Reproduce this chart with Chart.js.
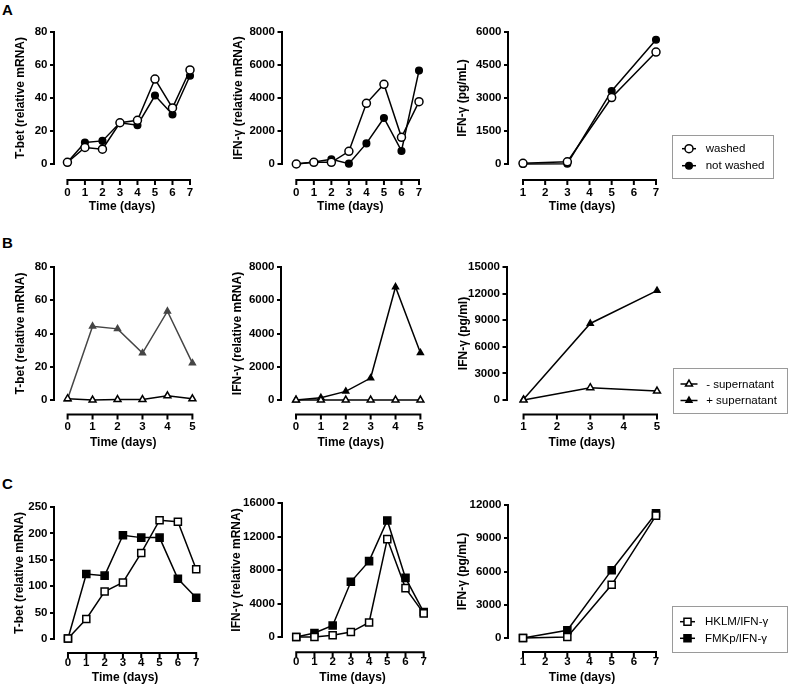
<!DOCTYPE html>
<html><head><meta charset="utf-8">
<script src="https://cdn.jsdelivr.net/npm/chart.js@4"></script>
<style>
body{margin:0;background:#fff;width:789px;height:690px;position:relative;overflow:hidden;font-family:"Liberation Sans",Arial,sans-serif}
canvas{position:absolute}
.pl{position:absolute;font:bold 15px "Liberation Sans",Arial,sans-serif;line-height:15px;color:#000}
</style></head><body>
<div class="pl" style="left:2px;top:2px">A</div>
<div class="pl" style="left:2px;top:235px">B</div>
<div class="pl" style="left:2px;top:476px">C</div>
<script>
// ---------- data ----------
const daysA = [0,1,2,3,4,5,6,7];
const daysA3 = [1,3,5,7];
const xTicksA = [0,1,2,3,4,5,6,7];
const xTicksA3 = [1,2,3,4,5,6,7];
const tbetWashedA = [1,10,9,25,26.5,51.5,34,57];
const tbetNotWashedA = [1,13,14,25,23.5,41.5,30,53.5];
const ifnMrnaWashedA = [0,100,100,770,3680,4830,1620,3780];
const ifnMrnaNotWashedA = [0,120,280,20,1250,2790,790,5660];
const ifnProtWashedA = [30,100,3020,5090];
const ifnProtNotWashedA = [0,15,3320,5650];
const yTicksTbetA = [0,20,40,60,80];
const yTicksMrnaA = [0,2000,4000,6000,8000];
const yTicksProtA = [0,1500,3000,4500,6000];

const daysB = [0,1,2,3,4,5];
const daysB3 = [1,3,5];
const xTicksB = [0,1,2,3,4,5];
const xTicksB3 = [1,2,3,4,5];
const tbetMinusB = [0.8,0,0.3,0.3,2.5,0.7];
const tbetPlusB = [0.6,44.4,42.8,28.2,53.4,22.2];
const ifnMrnaMinusB = [0,0,0,0,0,0];
const ifnMrnaPlusB = [0,140,520,1320,6800,2840];
const ifnProtMinusB = [0,1390,1010];
const ifnProtPlusB = [75,8630,12340];
const yTicksTbetB = [0,20,40,60,80];
const yTicksMrnaB = [0,2000,4000,6000,8000];
const yTicksProtB = [0,3000,6000,9000,12000,15000];

const daysC = [0,1,2,3,4,5,6,7];
const daysC3 = [1,3,5,7];
const xTicksC = [0,1,2,3,4,5,6,7];
const xTicksC3 = [1,2,3,4,5,6,7];
const tbetHklmC = [1,38,90,107,163,225,222,132];
const tbetFmkpC = [1,123,120,196.5,192,192,114,78];
const ifnMrnaHklmC = [0,0,200,590,1730,11690,5840,2820];
const ifnMrnaFmkpC = [0,470,1370,6590,9060,13920,7060,2980];
const ifnProtHklmC = [0,90,4800,11040];
const ifnProtFmkpC = [0,700,6120,11250];
const yTicksTbetC = [0,50,100,150,200,250];
const yTicksMrnaC = [0,4000,8000,12000,16000];
const yTicksProtC = [0,3000,6000,9000,12000];

const labelsA = ['washed','not washed'];
const labelsB = ['- supernatant','+ supernatant'];
const labelsC = ['HKLM/IFN-\u03b3','FMKp/IFN-\u03b3'];

// ---------- styles ----------
const FONT = '"Liberation Sans", Arial, sans-serif';
const sOpenCircle = {style:'circle', r:4, fill:'#fff', color:'#000'};
const sFillCircle = {style:'circle', r:3.3, fill:'#000', color:'#000'};
const sOpenTri = {style:'triangle', r:4, fill:'#fff', color:'#000'};
const sFillTri = {style:'triangle', r:3.4, fill:'#000', color:'#000'};
const sFillTriGray = {style:'triangle', r:3.4, fill:'#454545', color:'#454545'};
const sOpenSq = {style:'rect', r:5, fill:'#fff', color:'#000'};
const sFillSq = {style:'rect', r:5, fill:'#000', color:'#000'};

function drawMarker(ctx, st, x, y) {
  ctx.save();
  ctx.fillStyle = st.fill; ctx.strokeStyle = st.color; ctx.lineWidth = 1.5;
  ctx.beginPath();
  const r = st.r;
  if (st.style === 'circle') ctx.arc(x, y, r, 0, Math.PI*2);
  else if (st.style === 'triangle') {
    for (let k=0;k<3;k++){const a=k*2*Math.PI/3; const px=x+Math.sin(a)*r, py=y-Math.cos(a)*r; k?ctx.lineTo(px,py):ctx.moveTo(px,py);} ctx.closePath();
  } else { const s=Math.SQRT1_2*r; ctx.rect(x-s,y-s,2*s,2*s); }
  ctx.fill(); ctx.stroke(); ctx.restore();
}

const xAxisPlugin = {
  id:'xAxisLine',
  afterDraw(chart, args, opts) {
    const {ctx} = chart; const x = chart.scales.x, y = chart.scales.y;
    const yy = y.getPixelForValue(0) + opts.gap;
    const px = x.ticks.map(t => x.getPixelForValue(t.value));
    ctx.save(); ctx.strokeStyle = '#000'; ctx.lineWidth = 2;
    ctx.beginPath(); ctx.moveTo(px[0]-1, yy); ctx.lineTo(px[px.length-1]+1, yy);
    px.forEach(p => { ctx.moveTo(p, yy); ctx.lineTo(p, yy+5); });
    ctx.stroke(); ctx.restore();
  }
};

const legendPlugin = {
  id:'boxLegend',
  afterDraw(chart, args, opts) {
    if (!opts || !opts.box) return;
    const {ctx} = chart; const o = opts.offset;
    const b = opts.box;
    ctx.save();
    ctx.strokeStyle = '#9a9a9a'; ctx.lineWidth = 1;
    ctx.strokeRect(Math.round(b[0]-o[0])+0.5, Math.round(b[1]-o[1])+0.5, b[2]-b[0], b[3]-b[1]);
    chart.data.datasets.forEach((ds, i) => {
      const yy = opts.rows[i] - o[1];
      ctx.strokeStyle = ds.borderColor; ctx.lineWidth = 1.5;
      ctx.beginPath(); ctx.moveTo(opts.sym[0]-o[0], yy); ctx.lineTo(opts.sym[1]-o[0], yy); ctx.stroke();
      drawMarker(ctx, opts.styles[i], opts.sym[2]-o[0], yy);
      ctx.fillStyle = '#000'; ctx.font = '11.5px ' + FONT; ctx.textBaseline = 'middle'; ctx.textAlign = 'left';
      ctx.fillText(ds.label, opts.textX - o[0], yy + 0.5);
    });
    ctx.restore();
  }
};

function build(spec) {
  const cl = spec.ytx - 10, ct = spec.ytop - 12;
  const right = spec.legend ? 789 : spec.x1 + 14;
  const Hx = spec.titC + 7.2 - spec.y0;
  const ch = Math.ceil(spec.y0 + Hx + 3 - ct);
  const cw = Math.ceil(right - cl);
  const canvas = document.createElement('canvas');
  canvas.width = cw; canvas.height = ch;
  canvas.style.left = cl + 'px'; canvas.style.top = ct + 'px';
  canvas.style.width = cw + 'px'; canvas.style.height = ch + 'px';
  document.body.appendChild(canvas);
  const xt = spec.xTicks, yt = spec.yTicks;
  const first = xt[0], last = xt[xt.length-1];
  const xmin = first - (spec.x0 - spec.ax) / (spec.x1 - spec.x0) * (last - first);
  const legendOpts = spec.legend ? Object.assign({offset:[cl, ct], styles: spec.series.map(s=>s.st)}, spec.legend) : {};
  new Chart(canvas, {
    type: 'line',
    data: { datasets: spec.series.map(s => ({
      label: s.label,
      data: s.x.map((xv, i) => ({x: xv, y: s.y[i]})),
      borderColor: s.st.color, borderWidth: 1.5,
      pointStyle: s.st.style, pointRadius: s.st.r, pointHoverRadius: s.st.r,
      pointBackgroundColor: s.st.fill, pointBorderColor: s.st.color, pointBorderWidth: 1.5,
      tension: 0, fill: false, clip: false
    })) },
    options: {
      responsive: false, animation: false, devicePixelRatio: 1,
      events: [],
      layout: { padding: { left: 0, top: spec.ytop - ct, right: right - spec.x1, bottom: ch - (spec.y0 - ct) - Hx } },
      plugins: { legend: {display: false}, tooltip: {enabled: false},
        xAxisLine: {gap: spec.axisY - spec.y0}, boxLegend: legendOpts },
      scales: {
        x: { type: 'linear', min: xmin, max: last, bounds: 'data',
          afterBuildTicks: sc => { sc.ticks = xt.map(v => ({value: v})); },
          afterFit: sc => { sc.height = Hx; },
          grid: {display: false, drawTicks: false}, border: {display: false},
          ticks: {padding: spec.labC - spec.y0 - 6.9, color: '#000', autoSkip: false, maxRotation: 0,
            font: {family: FONT, weight: 'bold', size: 11.5}, callback: v => String(v)},
          title: {display: true, text: 'Time (days)', color: '#000', padding: {top: 0, bottom: 0},
            font: {family: FONT, weight: 'bold', size: 12}} },
        y: { type: 'linear', min: 0, max: yt[yt.length-1], bounds: 'data',
          afterBuildTicks: sc => { sc.ticks = yt.map(v => ({value: v})); },
          afterFit: sc => { sc.width = spec.ax - cl; },
          grid: {display: true, drawOnChartArea: false, drawTicks: true, tickLength: 4, lineWidth: 2, color: '#000'},
          border: {display: true, width: 2, color: '#000'},
          ticks: {padding: 2.5, color: '#000', autoSkip: false,
            font: {family: FONT, weight: 'bold', size: 11.5}, callback: v => String(v)},
          title: {display: true, text: spec.ytitle, color: '#000', padding: {top: 2.8, bottom: 0},
            font: {family: FONT, weight: 'bold', size: 12}} }
      }
    },
    plugins: [xAxisPlugin, legendPlugin]
  });
}

const rowA = {ytop: 32, y0: 164, axisY: 180, labC: 192.7, titC: 206.7};
const rowB = {ytop: 267, y0: 400, axisY: 414.5, labC: 427.3, titC: 443};

build(Object.assign({}, rowA, {ax: 53.5, x0: 68, x1: 200.5, ytx: 20.5, xTicks: xTicksA, yTicks: yTicksTbetA,
  ytitle: 'T-bet (relative mRNA)',
  series: [{label: labelsA[0], x: daysA, y: tbetWashedA, st: sOpenCircle}, {label: labelsA[1], x: daysA, y: tbetNotWashedA, st: sFillCircle}]}));
build(Object.assign({}, rowA, {ax: 281, x0: 297, x1: 429.5, ytx: 238.5, xTicks: xTicksA, yTicks: yTicksMrnaA,
  ytitle: 'IFN-\u03b3 (relative mRNA)',
  series: [{label: labelsA[0], x: daysA, y: ifnMrnaWashedA, st: sOpenCircle}, {label: labelsA[1], x: daysA, y: ifnMrnaNotWashedA, st: sFillCircle}]}));
build(Object.assign({}, rowA, {ax: 508, x0: 523, x1: 656, ytx: 463, xTicks: xTicksA3, yTicks: yTicksProtA,
  ytitle: 'IFN-\u03b3 (pg/mL)',
  legend: {box: [672, 135, 773, 178], rows: [148.7, 165.7], sym: [682, 696, 689], textX: 705.7},
  series: [{label: labelsA[0], x: daysA3, y: ifnProtWashedA, st: sOpenCircle}, {label: labelsA[1], x: daysA3, y: ifnProtNotWashedA, st: sFillCircle}]}));

build(Object.assign({}, rowB, {ax: 53.5, x0: 68, x1: 201, ytx: 20.5, xTicks: xTicksB, yTicks: yTicksTbetB,
  ytitle: 'T-bet (relative mRNA)',
  series: [{label: labelsB[0], x: daysB, y: tbetMinusB, st: sOpenTri}, {label: labelsB[1], x: daysB, y: tbetPlusB, st: sFillTriGray}]}));
build(Object.assign({}, rowB, {ax: 281, x0: 297, x1: 429.5, ytx: 238, xTicks: xTicksB, yTicks: yTicksMrnaB,
  ytitle: 'IFN-\u03b3 (relative mRNA)',
  series: [{label: labelsB[0], x: daysB, y: ifnMrnaMinusB, st: sOpenTri}, {label: labelsB[1], x: daysB, y: ifnMrnaPlusB, st: sFillTri}]}));
build(Object.assign({}, rowB, {ax: 506, x0: 523, x1: 656, ytx: 463.5, xTicks: xTicksB3, yTicks: yTicksProtB,
  ytitle: 'IFN-\u03b3 (pg/ml)',
  legend: {box: [672, 368, 786, 413], rows: [384, 400.5], sym: [680, 697, 688.5], textX: 705.7},
  series: [{label: labelsB[0], x: daysB3, y: ifnProtMinusB, st: sOpenTri}, {label: labelsB[1], x: daysB3, y: ifnProtPlusB, st: sFillTri}]}));

build({ytop: 507, y0: 639, axisY: 653, labC: 662.5, titC: 677.7, ax: 53.5, x0: 68, x1: 201, ytx: 19.5,
  xTicks: xTicksC, yTicks: yTicksTbetC, ytitle: 'T-bet (relative mRNA)',
  series: [{label: labelsC[0], x: daysC, y: tbetHklmC, st: sOpenSq}, {label: labelsC[1], x: daysC, y: tbetFmkpC, st: sFillSq}]});
build({ytop: 503, y0: 637, axisY: 652.3, labC: 662, titC: 677.7, ax: 281.5, x0: 297, x1: 431, ytx: 237,
  xTicks: xTicksC, yTicks: yTicksMrnaC, ytitle: 'IFN-\u03b3 (relative mRNA)',
  series: [{label: labelsC[0], x: daysC, y: ifnMrnaHklmC, st: sOpenSq}, {label: labelsC[1], x: daysC, y: ifnMrnaFmkpC, st: sFillSq}]});
build({ytop: 505, y0: 638, axisY: 652, labC: 662, titC: 677.7, ax: 508, x0: 523, x1: 656, ytx: 463,
  xTicks: xTicksC3, yTicks: yTicksProtC, ytitle: 'IFN-\u03b3 (pg/mL)',
  legend: {box: [672, 606, 787, 652], rows: [621.7, 638.3], sym: [680, 695, 687.5], textX: 705},
  series: [{label: labelsC[0], x: daysC3, y: ifnProtHklmC, st: sOpenSq}, {label: labelsC[1], x: daysC3, y: ifnProtFmkpC, st: sFillSq}]});
</script>
</body></html>
